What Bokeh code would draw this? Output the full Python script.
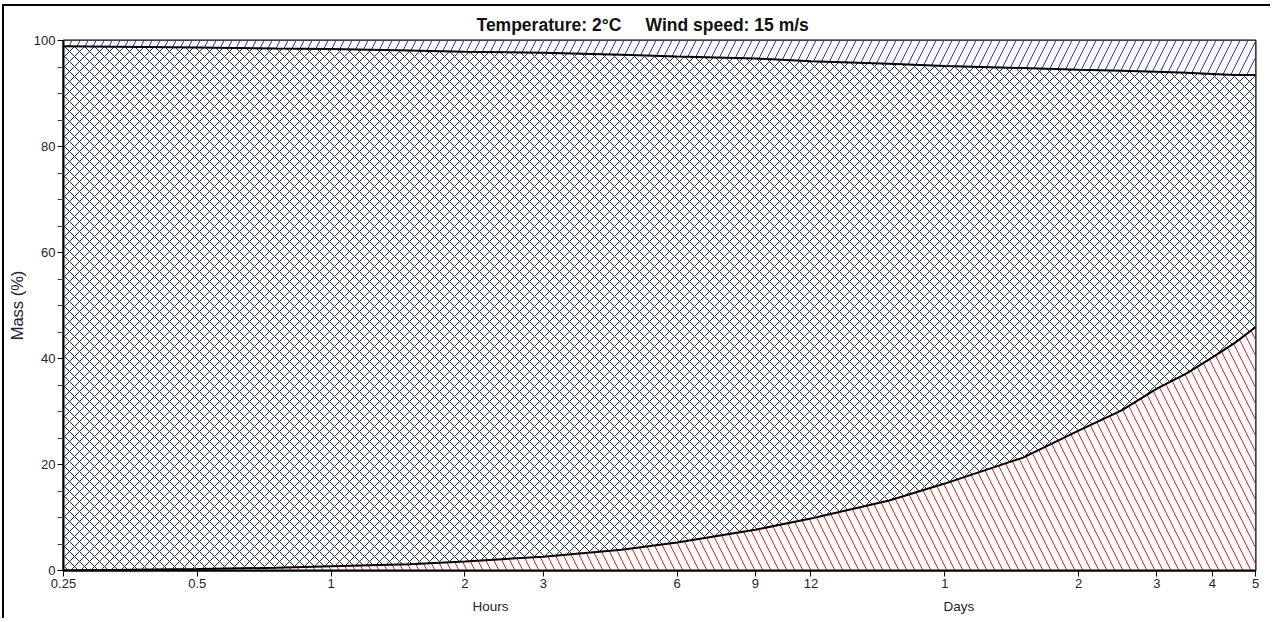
from bokeh.plotting import figure
from bokeh.models import Range1d, FixedTicker, Title
from bokeh.embed import file_html
from bokeh.resources import INLINE

# time in hours
hours = [0.25, 0.5, 0.75, 1, 1.5, 2, 3, 4.5, 6, 9, 12, 18, 24, 36, 48, 60, 72, 84, 96, 108, 120]
# upper boundary (100 - evaporated %)
top_line = [98.9, 98.7, 98.5, 98.4, 98.1, 97.9, 97.7, 97.3, 97.0, 96.6, 96.1, 95.6, 95.2,
            94.8, 94.5, 94.3, 94.1, 93.9, 93.7, 93.5, 93.5]
# lower boundary (dispersed %)
bottom_line = [0.0, 0.3, 0.5, 0.8, 1.2, 1.7, 2.6, 3.9, 5.3, 7.7, 9.8, 13.2, 16.4,
               21.3, 26.4, 30.2, 34.3, 37.2, 40.2, 43.0, 45.9]
hundred = [100] * len(hours)
zero = [0] * len(hours)

x_ticks = [0.25, 0.5, 1, 2, 3, 6, 9, 12, 24, 48, 72, 96, 120]
x_tick_labels = ["0.25", "0.5", "1", "2", "3", "6", "9", "12", "1", "2", "3", "4", "5"]
y_ticks = [0, 20, 40, 60, 80, 100]
y_minor = [5, 10, 15, 25, 30, 35, 45, 50, 55, 65, 70, 75, 85, 90, 95]

FONT = "Liberation Sans"
NB = "\u00a0"

p = figure(width=1268, height=614, x_axis_type="log", output_backend="svg",
           toolbar_location=None, x_range=Range1d(0.25, 120), y_range=Range1d(0, 100),
           min_border_left=57, min_border_right=17, min_border_top=34, min_border_bottom=50)
p.title = None
p.add_layout(Title(text="Temperature: 2°C" + NB * 5 + "Wind speed: 15 m/s", align="left",
                   text_font=FONT, text_font_size="17.5px", text_font_style="bold",
                   text_color="#111111", offset=413, standoff=11), "above")
p.add_layout(Title(text="Hours" + NB * 116 + "Days", align="left", offset=409,
                   text_font=FONT, text_font_size="13.5px", text_font_style="normal",
                   text_color="#222233", standoff=13), "below")
p.styles = {"border-left": "2px solid black", "border-top": "2px solid black",
            "margin-left": "2px", "margin-top": "4px"}

p.background_fill_color = "white"
p.border_fill_color = "white"
p.outline_line_color = "black"
p.outline_line_width = 2

# areas
p.varea(x=hours, y1=top_line, y2=hundred, fill_color="white",
        hatch_pattern="/", hatch_color="#2b2bd6", hatch_scale=16, hatch_weight=1)
p.varea(x=hours, y1=bottom_line, y2=top_line, fill_color="white",
        hatch_pattern="x", hatch_color="#1f2a48", hatch_scale=10, hatch_weight=1)
p.varea(x=hours, y1=zero, y2=bottom_line, fill_color="white",
        hatch_pattern="\\", hatch_color="#e82020", hatch_scale=16, hatch_weight=1)

p.line(hours, top_line, line_color="black", line_width=2)
p.line(hours, bottom_line, line_color="black", line_width=2)

# axes
p.xaxis.ticker = FixedTicker(ticks=x_ticks)
p.xaxis.major_label_overrides = {t: l for t, l in zip(x_ticks, x_tick_labels)}
p.yaxis.ticker = FixedTicker(ticks=y_ticks, minor_ticks=y_minor)
for ax in (p.xaxis[0], p.yaxis[0]):
    ax.axis_line_color = "black"
    ax.axis_line_width = 2
    ax.major_tick_line_color = "black"
    ax.major_tick_out = 6
    ax.major_tick_in = 0
    ax.major_label_text_font = FONT
    ax.major_label_text_font_size = "13px"
    ax.major_label_text_color = "#222233"
    ax.major_label_standoff = 2
p.xaxis.minor_tick_line_color = None
p.yaxis.minor_tick_line_color = "#444444"
p.yaxis.minor_tick_out = 6
p.yaxis.minor_tick_in = 0
p.yaxis.axis_label = "Mass (%)"
p.yaxis.axis_label_text_font = FONT
p.yaxis.axis_label_text_font_size = "16.5px"
p.yaxis.axis_label_text_font_style = "normal"
p.yaxis.axis_label_text_color = "#222233"
p.yaxis.axis_label_standoff = 5

p.xgrid.grid_line_color = "#a0a0a0"
p.xgrid.grid_line_width = 1
p.ygrid.grid_line_color = "#a0a0a0"
p.ygrid.minor_grid_line_color = "#a0a0a0"
p.ygrid.grid_line_width = 1

open("out.html", "w").write(file_html(p, INLINE))
